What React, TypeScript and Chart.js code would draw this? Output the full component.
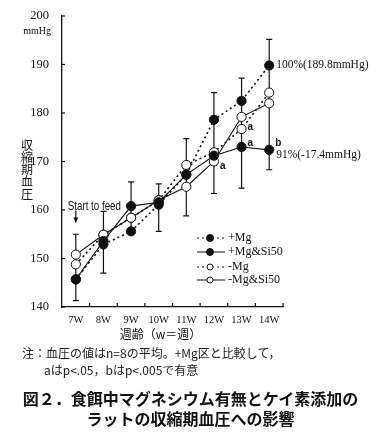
import React, { useEffect, useRef } from "react";
import { Chart, registerables } from "chart.js";

Chart.register(...registerables);

const weeks = ["7W", "8W", "9W", "10W", "11W", "12W", "13W", "14W"];
const plusMg = [145.7, 152.9, 155.6, 161.1, 167.3, 178.6, 182.5, 189.8];
const plusMgSi50 = [145.7, 153.6, 160.8, 161.6, 167.3, 171.2, 173.0, 172.4];
const minusMg = [148.8, 154.9, 158.4, 162.0, 169.3, 171.9, 176.7, 184.2];
const minusMgSi50 = [150.8, 154.9, 158.4, 162.0, 164.8, 170.0, 179.2, 182.0];
const errHigh = [155.0, 159.7, 165.8, 165.4, 174.7, 184.2, 187.2, 195.2];
const errLow = [141.3, 147.0, 155.6, 155.6, 158.8, 163.4, 164.5, 168.3];
const yTicks = [140, 150, 160, 170, 180, 190, 200];
const seriesNames = ["+Mg", "+Mg&Si50", "-Mg", "-Mg&Si50"];
const sigLabels = [
  { week: 5, value: 170.0, text: "a", dx: 6, dy: 5 },
  { week: 6, value: 176.7, text: "a", dx: 6, dy: -2 },
  { week: 6, value: 173.0, text: "a", dx: 6, dy: -4 },
  { week: 7, value: 172.4, text: "b", dx: 6, dy: -7 },
];
const endLabels = [
  { week: 7, value: 189.8, text: "100%(189.8mmHg)", dy: 0 },
  { week: 7, value: 172.4, text: "91%(-17.4mmHg)", dy: 5 },
];

const SERIF = '"Liberation Serif", "DejaVu Serif", serif';

const overlayPlugin = {
  id: "overlay",
  beforeDatasetsDraw(chart: any) {
    const { ctx, scales } = chart;
    const xs = scales.x;
    const ys = scales.y;
    ctx.save();
    ctx.strokeStyle = "#111";
    ctx.lineWidth = 1.2;
    for (let i = 0; i < weeks.length; i++) {
      const x = xs.getPixelForValue(i);
      const y1 = ys.getPixelForValue(errHigh[i]);
      const y2 = ys.getPixelForValue(errLow[i]);
      ctx.beginPath();
      ctx.moveTo(x, y1);
      ctx.lineTo(x, y2);
      ctx.moveTo(x - 3, y1);
      ctx.lineTo(x + 3, y1);
      ctx.moveTo(x - 3, y2);
      ctx.lineTo(x + 3, y2);
      ctx.stroke();
    }
    ctx.restore();
  },
  afterDraw(chart: any) {
    const { ctx, scales, chartArea } = chart;
    const xs = scales.x;
    const ys = scales.y;
    ctx.save();
    ctx.strokeStyle = "#111";
    ctx.fillStyle = "#111";
    ctx.lineWidth = 1.2;
    // axis ticks (inside)
    for (const v of yTicks) {
      const y = ys.getPixelForValue(v);
      ctx.beginPath();
      ctx.moveTo(chartArea.left, y);
      ctx.lineTo(chartArea.left + 3, y);
      ctx.stroke();
    }
    const step = xs.getPixelForValue(1) - xs.getPixelForValue(0);
    for (let i = 0; i < weeks.length; i++) {
      const x = xs.getPixelForValue(i) + step / 2;
      ctx.beginPath();
      ctx.moveTo(x, chartArea.bottom);
      ctx.lineTo(x, chartArea.bottom - 4);
      ctx.stroke();
    }
    // unit
    ctx.font = `10px ${SERIF}`;
    ctx.textAlign = "right";
    ctx.textBaseline = "middle";
    ctx.fillText("mmHg", chartArea.left - 11, ys.getPixelForValue(200) + 15);
    // y title vertical
    ctx.font = `12px "Noto Sans CJK JP"`;
    ctx.textAlign = "center";
    const title = "収縮期血圧";
    for (let k = 0; k < title.length; k++) {
      ctx.fillText(title[k], 27, 145 + k * 12.3);
    }
    // x title
    ctx.font = `12px "Noto Sans CJK JP"`;
    ctx.fillText("週齢（w＝週）", (chartArea.left + chartArea.right) / 2 - 12, chartArea.bottom + 27);
    // start to feed
    const x0 = xs.getPixelForValue(0);
    ctx.save();
    ctx.font = `12.5px "Liberation Sans", sans-serif`;
    ctx.textAlign = "left";
    ctx.translate(x0 - 8, ys.getPixelForValue(160.8));
    ctx.scale(0.78, 1);
    ctx.fillText("Start to feed", 0, 0);
    ctx.restore();
    ctx.beginPath();
    ctx.moveTo(x0, ys.getPixelForValue(159.9));
    ctx.lineTo(x0, ys.getPixelForValue(157.4));
    ctx.stroke();
    ctx.beginPath();
    const ay = ys.getPixelForValue(157.4);
    ctx.moveTo(x0 - 2.5, ay - 5);
    ctx.lineTo(x0 + 2.5, ay - 5);
    ctx.lineTo(x0, ay);
    ctx.closePath();
    ctx.fill();
    // end labels
    ctx.textAlign = "left";
    ctx.font = `11.5px ${SERIF}`;
    for (const l of endLabels) {
      ctx.fillText(l.text, xs.getPixelForValue(l.week) + 7, ys.getPixelForValue(l.value) + l.dy);
    }
    // significance letters
    ctx.font = `bold 10px "Liberation Sans", sans-serif`;
    for (const s of sigLabels) {
      ctx.fillText(s.text, xs.getPixelForValue(s.week) + s.dx, ys.getPixelForValue(s.value) + s.dy);
    }
    // legend
    const lx0 = chartArea.left + 135;
    const rows = [238, 252, 267, 280];
    ctx.font = `12px ${SERIF}`;
    chart.data.datasets.forEach((ds: any, i: number) => {
      const y = rows[i];
      ctx.save();
      ctx.lineWidth = 1;
      ctx.setLineDash(ds.borderDash || []);
      ctx.beginPath();
      ctx.moveTo(lx0, y);
      ctx.lineTo(lx0 + 28, y);
      ctx.stroke();
      ctx.restore();
      ctx.beginPath();
      const r = i < 2 ? 3.5 : 3;
      ctx.arc(lx0 + 13, y, r, 0, Math.PI * 2);
      ctx.fillStyle = ds.pointBackgroundColor;
      ctx.fill();
      ctx.lineWidth = 1;
      ctx.stroke();
      ctx.fillStyle = "#111";
      ctx.fillText(seriesNames[i], lx0 + 31, y);
    });
    ctx.restore();
  },
};

export default function App() {
  const ref = useRef<HTMLCanvasElement>(null);
  useEffect(() => {
    if (!ref.current) return;
    const mk = (label: string, data: number[], dashed: boolean, filled: boolean) => ({
      label,
      data,
      borderColor: "#111",
      borderWidth: dashed ? 1.6 : 1.1,
      borderDash: dashed ? [2, 3] : [],
      pointRadius: 4.6,
      pointBorderWidth: 1,
      pointBorderColor: "#111",
      pointBackgroundColor: filled ? "#111" : "#fff",
      tension: 0,
      fill: false,
    });
    const chart = new Chart(ref.current, {
      type: "line",
      data: {
        labels: weeks,
        datasets: [
          mk(seriesNames[0], plusMg, true, true),
          mk(seriesNames[1], plusMgSi50, false, true),
          mk(seriesNames[2], minusMg, true, false),
          mk(seriesNames[3], minusMgSi50, false, false),
        ],
      },
      options: {
        animation: false,
        responsive: false,
        devicePixelRatio: 1,
        layout: { padding: { left: 0, top: 16, right: 98, bottom: 107 } },
        plugins: { legend: { display: false }, tooltip: { enabled: false } },
        scales: {
          x: {
            type: "category",
            offset: true,
            grid: { display: false, offset: true, drawTicks: false, tickLength: 0 },
            border: { display: true, color: "#111", width: 1.3 },
            ticks: { color: "#111", font: { family: SERIF, size: 10.5 }, padding: 7, maxRotation: 0 },
            afterFit: (s: any) => {
              s.height = 23;
            },
          },
          y: {
            min: 140,
            max: 200,
            grid: { display: false },
            border: { display: true, color: "#111", width: 1.3 },
            ticks: { stepSize: 10, color: "#111", font: { family: SERIF, size: 12.5 }, padding: 5 },
            afterFit: (s: any) => {
              s.width = 62;
            },
          },
        },
      },
      plugins: [overlayPlugin],
    });
    return () => chart.destroy();
  }, []);

  const cjk = '"Noto Sans CJK JP", sans-serif';
  return (
    <div style={{ position: "fixed", left: 0, top: 0, width: 381, height: 437, background: "#fff", overflow: "hidden" }}>
      <canvas ref={ref} width={381} height={437} style={{ position: "absolute", left: 0, top: 0, width: 381, height: 437 }} />
      <div style={{ position: "absolute", left: 22, top: 344, fontFamily: cjk, fontSize: 12, lineHeight: "17px", color: "#222", whiteSpace: "nowrap" }}>
        <div>注：血圧の値はn=8の平均。+Mg区と比較して，</div>
        <div style={{ paddingLeft: 22 }}>aはp&lt;.05，bはp&lt;.005で有意</div>
      </div>
      <div style={{ position: "absolute", left: 0, width: 381, top: 388, fontFamily: cjk, fontWeight: "bold", fontSize: 16, lineHeight: "20px", color: "#111", textAlign: "center", whiteSpace: "nowrap" }}>
        <div>図２．食餌中マグネシウム有無とケイ素添加の</div>
        <div>ラットの収縮期血圧への影響</div>
      </div>
    </div>
  );
}
